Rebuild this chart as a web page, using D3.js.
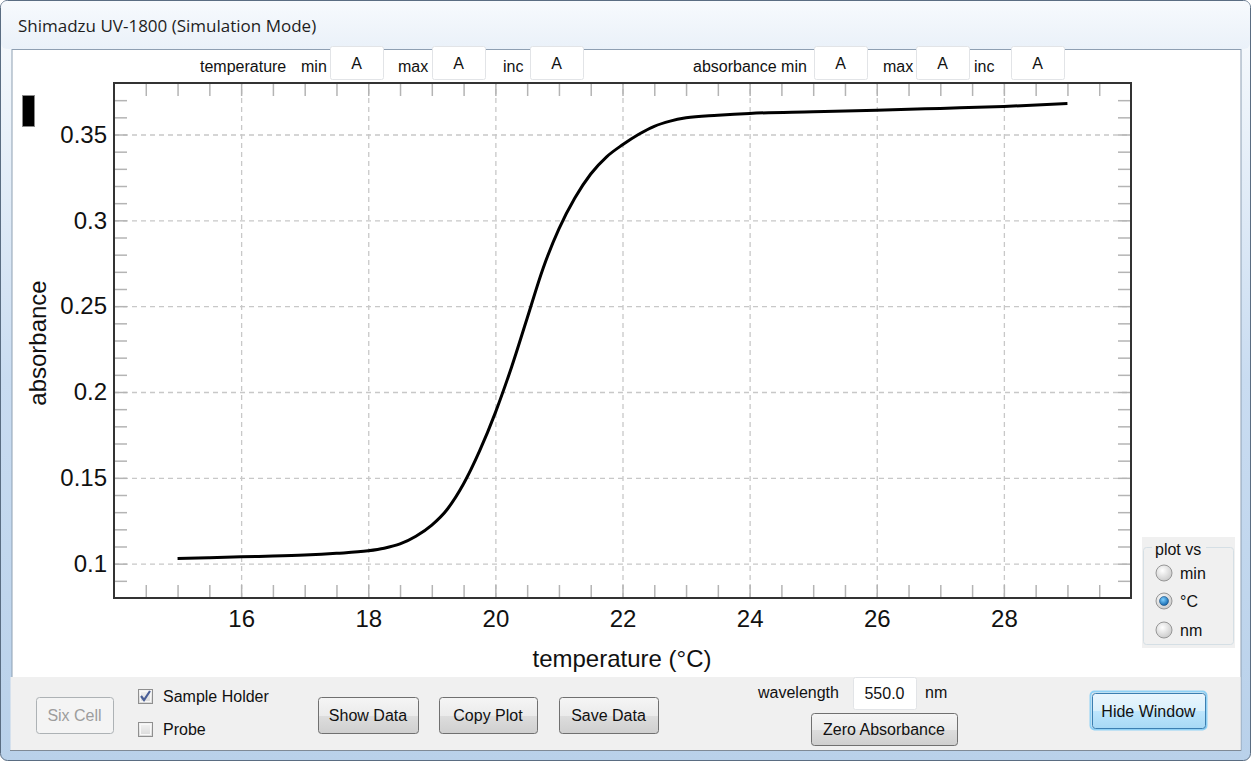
<!DOCTYPE html>
<html lang="en">
<head>
<meta charset="UTF-8">
<title>Shimadzu UV-1800 (Simulation Mode)</title>
<script src="https://d3js.org/d3.v7.min.js"></script>
<style>
  html, body { margin: 0; padding: 0; background: #fff; }
  svg { display: block; }
  text { font-family: "Liberation Sans", Arial, sans-serif; fill: #111; }
  .ui { font-size: 16px; }
  .axis text { font-size: 24px; fill: #111; }
  .axis path { display: none; }
  .minor line { stroke: #b4b4b4; stroke-width: 1.5; }
  .grid line { stroke: #c8c8c8; stroke-width: 1.3; stroke-dasharray: 5,4; }
</style>
</head>
<body>
<div id="chart"></div>
<script>
// measured curve: temperature (°C) vs absorbance
var temps   = [15, 15.5, 16, 16.5, 17, 17.5, 18, 18.25, 18.5, 18.75, 19, 19.25, 19.5, 19.75,
               20, 20.25, 20.5, 20.75, 21, 21.25, 21.5, 21.75, 22, 22.25, 22.5, 22.75, 23,
               23.5, 24, 25, 26, 27, 28, 29];
var absorb  = [0.1030, 0.1035, 0.1040, 0.1044, 0.1050, 0.1060, 0.1075, 0.1090, 0.1115, 0.1160,
               0.1225, 0.1320, 0.1465, 0.1655, 0.1880, 0.2140, 0.2430, 0.2720, 0.2950, 0.3130,
               0.3270, 0.3370, 0.3440, 0.3500, 0.3548, 0.3578, 0.3597, 0.3612, 0.3623, 0.3632,
               0.3641, 0.3652, 0.3663, 0.3680];
var xTickLabels = [16, 18, 20, 22, 24, 26, 28];
var yTickLabels = [0.1, 0.15, 0.2, 0.25, 0.3, 0.35];
var xDomain = [14, 30];
var yDomain = [0.08, 0.38];

var W = 1251, H = 761;
var plot = { left: 114, top: 83, right: 1131, bottom: 598 };

var svg = d3.select("#chart").append("svg").attr("width", W).attr("height", H);
var defs = svg.append("defs");

function grad(id, stops) {
  var g = defs.append("linearGradient").attr("id", id).attr("x1", 0).attr("y1", 0).attr("x2", 0).attr("y2", 1);
  stops.forEach(function (s) { g.append("stop").attr("offset", s[0]).attr("stop-color", s[1]); });
}
grad("frameG", [[0, "#e4edf7"], [0.06, "#f4f8fc"], [0.5, "#c9dcf1"], [1, "#b9d1ea"]]);
grad("titleG", [[0, "#f7fafd"], [1, "#eaf1f9"]]);
grad("btnG", [[0, "#f5f5f5"], [0.5, "#ebebeb"], [0.51, "#dddddd"], [1, "#cfcfcf"]]);
grad("btnHot", [[0, "#eaf6fd"], [0.5, "#d9f0fc"], [0.51, "#bee6fd"], [1, "#a7d9f5"]]);
grad("chkG", [[0, "#f4f4f4"], [1, "#d8d8d8"]]);
var rg = defs.append("radialGradient").attr("id", "radioG").attr("cx", "40%").attr("cy", "35%").attr("r", "70%");
rg.append("stop").attr("offset", 0).attr("stop-color", "#ffffff");
rg.append("stop").attr("offset", 1).attr("stop-color", "#c8c8c8");
var rb = defs.append("radialGradient").attr("id", "radioB").attr("cx", "40%").attr("cy", "35%").attr("r", "70%");
rb.append("stop").attr("offset", 0).attr("stop-color", "#7fd0ff");
rb.append("stop").attr("offset", 1).attr("stop-color", "#0b5fa8");

// window frame
svg.append("rect").attr("x", 0.5).attr("y", 0.5).attr("width", W - 1).attr("height", H - 1)
  .attr("rx", 7).attr("fill", "url(#frameG)").attr("stroke", "#5a6d82");
svg.append("rect").attr("x", 1).attr("y", 1).attr("width", W - 2).attr("height", 48)
  .attr("rx", 6).attr("fill", "url(#titleG)");
svg.append("text").attr("x", 18).attr("y", 32)
  .style("font-family", "'Open Sans', sans-serif").style("font-size", "17px").style("fill", "#1e1e1e")
  .text("Shimadzu UV-1800 (Simulation Mode)");

// client area
svg.append("rect").attr("x", 12).attr("y", 49.5).attr("width", 1229).attr("height", 701)
  .attr("fill", "#fff").attr("stroke", "#8e9fb2");
svg.append("rect").attr("x", 10.5).attr("y", 677).attr("width", 1230).attr("height", 73)
  .attr("fill", "#f0f0f0");
svg.append("line").attr("x1", 10).attr("x2", 1241).attr("y1", 750.5).attr("y2", 750.5).attr("stroke", "#7f8a96");

// top option row
function box(x, y, w, h, label) {
  svg.append("rect").attr("x", x + 0.5).attr("y", y + 0.5).attr("width", w).attr("height", h)
    .attr("rx", 2).attr("fill", "#fff").attr("stroke", "#e2e4e7");
  if (label) svg.append("text").attr("class", "ui").attr("x", x + w / 2).attr("y", y + h / 2 + 6)
    .attr("text-anchor", "middle").text(label);
}
var topRow = [
  ["temperature", 200], ["min", 301], ["max", 398], ["inc", 503],
  ["absorbance min", 693], ["max", 883], ["inc", 974]
];
topRow.forEach(function (t) {
  svg.append("text").attr("class", "ui").attr("x", t[1]).attr("y", 72).text(t[0]);
});
[330, 432, 530, 814, 916, 1011].forEach(function (x) { box(x, 46, 53, 33, "A"); });

// marker
svg.append("rect").attr("x", 22.5).attr("y", 95.5).attr("width", 12).attr("height", 31)
  .attr("fill", "#000").attr("stroke", "#8a8a8a");

// chart
var x = d3.scaleLinear().domain(xDomain).range([plot.left, plot.right]);
var y = d3.scaleLinear().domain(yDomain).range([plot.bottom, plot.top]);
var pw = plot.right - plot.left, ph = plot.bottom - plot.top;

var g = svg.append("g");
var xMinor = d3.range(xDomain[0] + 0.5, xDomain[1], 0.5);
var yMinor = d3.range(9, 38).map(function (d) { return d / 100; });

g.append("g").attr("class", "grid").attr("transform", "translate(0," + plot.bottom + ")")
  .call(d3.axisBottom(x).tickValues(xTickLabels).tickSize(-ph).tickFormat(""))
  .select(".domain").remove();
g.append("g").attr("class", "grid").attr("transform", "translate(" + plot.left + ",0)")
  .call(d3.axisLeft(y).tickValues(yTickLabels).tickSize(-pw).tickFormat(""))
  .select(".domain").remove();

var tk = 13;
g.append("g").attr("class", "minor axis").attr("transform", "translate(0," + plot.bottom + ")")
  .call(d3.axisBottom(x).tickValues(xMinor).tickSize(-tk).tickFormat(""));
g.append("g").attr("class", "minor axis").attr("transform", "translate(0," + plot.top + ")")
  .call(d3.axisTop(x).tickValues(xMinor).tickSize(-tk).tickFormat(""));
g.append("g").attr("class", "minor axis").attr("transform", "translate(" + plot.left + ",0)")
  .call(d3.axisLeft(y).tickValues(yMinor).tickSize(-tk).tickFormat(""));
g.append("g").attr("class", "minor axis").attr("transform", "translate(" + plot.right + ",0)")
  .call(d3.axisRight(y).tickValues(yMinor).tickSize(-tk).tickFormat(""));

g.append("g").attr("class", "axis").attr("transform", "translate(0," + plot.bottom + ")")
  .call(d3.axisBottom(x).tickValues(xTickLabels).tickSize(0).tickPadding(12).tickFormat(d3.format("d")));
g.append("g").attr("class", "axis").attr("transform", "translate(" + plot.left + ",0)")
  .call(d3.axisLeft(y).tickValues(yTickLabels).tickSize(0).tickPadding(7).tickFormat(function (d) { return String(+d.toFixed(2)); }));

g.append("rect").attr("x", plot.left).attr("y", plot.top).attr("width", pw).attr("height", ph)
  .attr("fill", "none").attr("stroke", "#333").attr("stroke-width", 2);

var line = d3.line().x(function (d, i) { return x(temps[i]); }).y(function (d) { return y(d); })
  .curve(d3.curveMonotoneX);
g.append("path").datum(absorb).attr("d", line).attr("fill", "none")
  .attr("stroke", "#000").attr("stroke-width", 3);

g.append("text").attr("transform", "translate(46,343) rotate(-90)").attr("text-anchor", "middle")
  .style("font-size", "24px").text("absorbance");
g.append("text").attr("x", 622).attr("y", 667).attr("text-anchor", "middle")
  .style("font-size", "24px").text("temperature (°C)");

// plot vs group
svg.append("rect").attr("x", 1142).attr("y", 537).attr("width", 93).attr("height", 111).attr("fill", "#f0f0f0");
svg.append("rect").attr("x", 1143.5).attr("y", 547.5).attr("width", 90).attr("height", 97)
  .attr("rx", 3).attr("fill", "none").attr("stroke", "#d5dfe5");
svg.append("rect").attr("x", 1152).attr("y", 540).attr("width", 54).attr("height", 18).attr("fill", "#f0f0f0");
svg.append("text").attr("class", "ui").attr("x", 1155).attr("y", 555).text("plot vs");
var radios = [["min", 573, false], ["°C", 601, true], ["nm", 630, false]];
radios.forEach(function (r) {
  svg.append("circle").attr("cx", 1164).attr("cy", r[1]).attr("r", 8)
    .attr("fill", "url(#radioG)").attr("stroke", "#979797");
  if (r[2]) svg.append("circle").attr("cx", 1164).attr("cy", r[1]).attr("r", 4.5)
    .attr("fill", "url(#radioB)").attr("stroke", "#1c4f7d").attr("stroke-width", 0.6);
  svg.append("text").attr("class", "ui").attr("x", 1180).attr("y", r[1] + 6).text(r[0]);
});

// bottom controls
function button(x0, y0, w, h, label, kind) {
  var fill = kind === "hot" ? "url(#btnHot)" : kind === "off" ? "#f4f4f4" : "url(#btnG)";
  var stroke = kind === "hot" ? "#3c7fb1" : kind === "off" ? "#adb2b5" : "#707070";
  if (kind === "hot") svg.append("rect").attr("x", x0 - 1.5).attr("y", y0 - 1.5).attr("width", w + 3).attr("height", h + 3)
    .attr("rx", 4).attr("fill", "none").attr("stroke", "#8fd1f5").attr("stroke-width", 2);
  svg.append("rect").attr("x", x0 + 0.5).attr("y", y0 + 0.5).attr("width", w).attr("height", h)
    .attr("rx", 3).attr("fill", fill).attr("stroke", stroke);
  svg.append("text").attr("class", "ui").attr("x", x0 + w / 2).attr("y", y0 + h / 2 + 6)
    .attr("text-anchor", "middle").style("fill", kind === "off" ? "#9d9d9d" : "#111").text(label);
}
button(36, 697, 77, 36, "Six Cell", "off");
button(318, 697, 100, 36, "Show Data");
button(439, 697, 98, 36, "Copy Plot");
button(559, 697, 99, 36, "Save Data");
button(811, 713, 146, 32, "Zero Absorbance");
button(1092, 693, 113, 35, "Hide Window", "hot");

function check(x0, y0, label, on) {
  svg.append("rect").attr("x", x0 + 0.5).attr("y", y0 + 0.5).attr("width", 14).attr("height", 14)
    .attr("fill", "url(#chkG)").attr("stroke", "#8f8f8f");
  svg.append("rect").attr("x", x0 + 2.5).attr("y", y0 + 2.5).attr("width", 10).attr("height", 10)
    .attr("fill", "none").attr("stroke", "#f8f8f8");
  if (on) svg.append("path").attr("d", "M" + (x0 + 3) + "," + (y0 + 7) + " l3,4 l6,-9")
    .attr("fill", "none").attr("stroke", "#4a5f97").attr("stroke-width", 2.2);
  svg.append("text").attr("class", "ui").attr("x", x0 + 25).attr("y", y0 + 13).text(label);
}
check(138, 689, "Sample Holder", true);
check(138, 722, "Probe", false);

svg.append("text").attr("class", "ui").attr("x", 758).attr("y", 698).text("wavelength");
box(853, 677, 63, 32, "550.0");
svg.append("text").attr("class", "ui").attr("x", 925).attr("y", 698).text("nm");
</script>
</body>
</html>
